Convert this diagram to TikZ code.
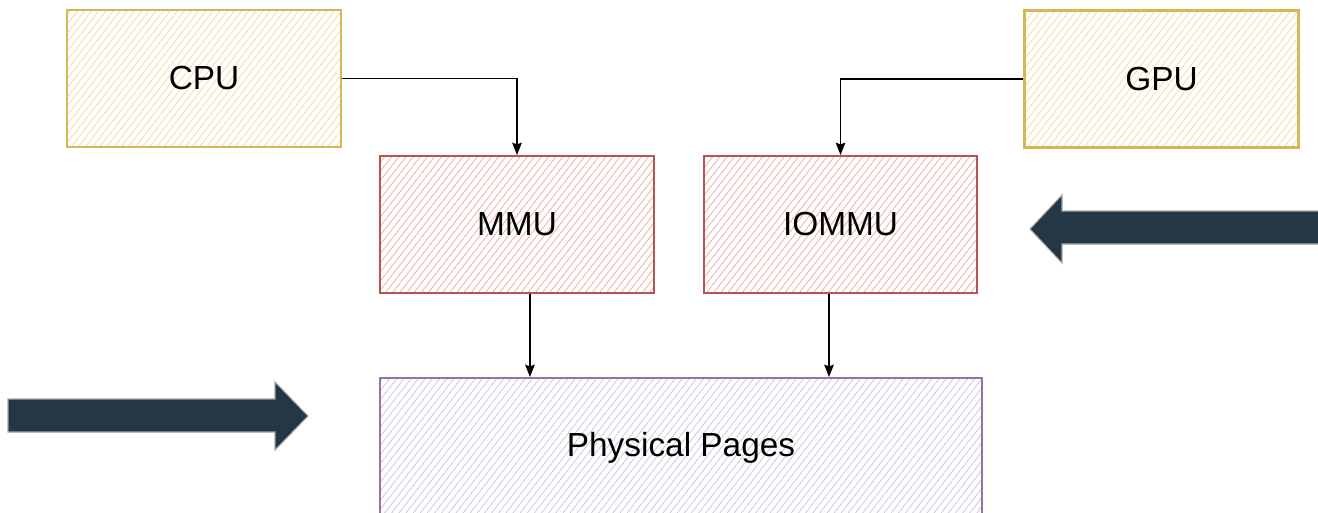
\documentclass[tikz,border=0pt]{standalone}
\usepackage{fontspec}
\setmainfont{Liberation Sans}
\usetikzlibrary{arrows.meta,patterns.meta,calc}
\definecolor{CpuLine}{HTML}{D6B656}
\definecolor{CpuHatch}{HTML}{F0E2A8}
\definecolor{MmuLine}{HTML}{B85450}
\definecolor{MmuHatch}{HTML}{EDB4B2}
\definecolor{PageLine}{HTML}{9673A6}
\definecolor{PageHatch}{HTML}{D6C9DF}
\definecolor{Slate}{HTML}{243747}
\definecolor{SlateEdge}{HTML}{A6A6A6}
\tikzdeclarepattern{name=hatch,type=uncolored,bottom left={(-.1pt,-.4pt)},top right={(3.3pt,.4pt)},tile size={(3.2pt,3.2pt)},tile transformation={rotate=52},code={\draw[line width=.5pt](-.1pt,0)--(3.3pt,0);}}
\begin{document}
\begin{tikzpicture}[>={Stealth[length=7pt,width=5.5pt,inset=1pt]},every node/.style={font=\fontsize{19}{22}\selectfont},
box/.style={rectangle,line width=1.2pt,preaction={fill=white},pattern=hatch,pattern color=#1Hatch,draw=#1Line,minimum width=5.48cm,minimum height=2.74cm},
fat/.style={fill=Slate,draw=SlateEdge,line width=.6pt,line join=miter}]
\clip(0,0)rectangle(26.36,10.24);
\node[box=Cpu](cpu)at(4.08,8.67){CPU};\node[box=Cpu](gpu)at(23.23,8.66){GPU};
\node[box=Mmu](mmu)at(10.34,5.75){MMU};\node[box=Mmu,minimum width=5.46cm](iommu)at(16.81,5.75){IOMMU};
\node[box=Page,minimum width=12.04cm,minimum height=2.78cm](pages)at(13.62,1.29){Physical Pages};
\coordinate(p1)at($(pages.north west)!.25!(pages.north east)$);\coordinate(p2)at($(pages.north west)!.745!(pages.north east)$);
\draw[->,line width=.7pt](cpu.east)-|(mmu.north);\draw[->,line width=.7pt](gpu.west)-|(iommu.north);
\draw[->,line width=.7pt](mmu.south-|p1)--(p1);\draw[->,line width=.7pt](iommu.south-|p2)--(p2);
% big arrows
\draw[fat](.16,1.6)--(5.5,1.6)--(5.5,1.24)--(6.16,1.92)--(5.5,2.6)--(5.5,2.26)--(.16,2.26)--cycle;
\draw[fat](26.6,6.02)--(21.24,6.02)--(21.24,6.34)--(20.6,5.66)--(21.24,4.98)--(21.24,5.36)--(26.6,5.36)--cycle;
\end{tikzpicture}
\end{document}
